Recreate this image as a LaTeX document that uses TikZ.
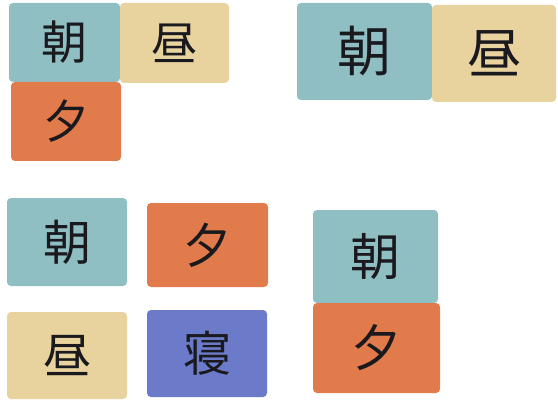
\documentclass[tikz,border=0pt]{standalone}
\usepackage{fontspec}
\newfontfamily\cjk{Noto Sans CJK JP}
\definecolor{cteal}{RGB}{143,191,194}
\definecolor{cbeige}{RGB}{232,210,158}
\definecolor{corange}{RGB}{226,123,75}
\definecolor{cblue}{RGB}{107,123,201}
\definecolor{ctext}{RGB}{25,25,30}
\tikzset{
  card/.style={rectangle, rounded corners=4pt, inner sep=0pt, text=ctext},
  sz/.style args={#1/#2/#3}{minimum width=#1pt, minimum height=#2pt, font=\cjk\fontsize{#3}{#3}\selectfont}
}
\begin{document}
\begin{tikzpicture}[x=1pt,y=1pt]
\useasboundingbox (0,0) rectangle (558,400);
% group 1
\node[card, fill=cteal,  sz=111/79/46] (a1) at (64.5,357.5) {朝};
\node[card, fill=cbeige, sz=109/80/46] (b1) at (174.5,357) {昼};
\node[card, fill=corange,sz=110/79/46] (c1) at (66,278.5) {夕};
% group 2
\node[card, fill=cteal,  sz=135/97/54] (a2) at (364.5,348.5) {朝};
\node[card, fill=cbeige, sz=124/97/54] (b2) at (494,346.5) {昼};
% group 3
\node[card, fill=cteal,  sz=120/88/48] (a3) at (67,158) {朝};
\node[card, fill=corange,sz=121/84/48] (b3) at (207.5,155) {夕};
\node[card, fill=cbeige, sz=120/87/48] (c3) at (67,44.5) {昼};
\node[card, fill=cblue,  sz=120/87/48] (d3) at (207,46.5) {寝};
% group 4
\node[card, fill=cteal,  sz=125/93/50] (a4) at (375.5,143.5) {朝};
\node[card, fill=corange,sz=127/90/50] (b4) at (376.5,52) {夕};
\end{tikzpicture}
\end{document}
